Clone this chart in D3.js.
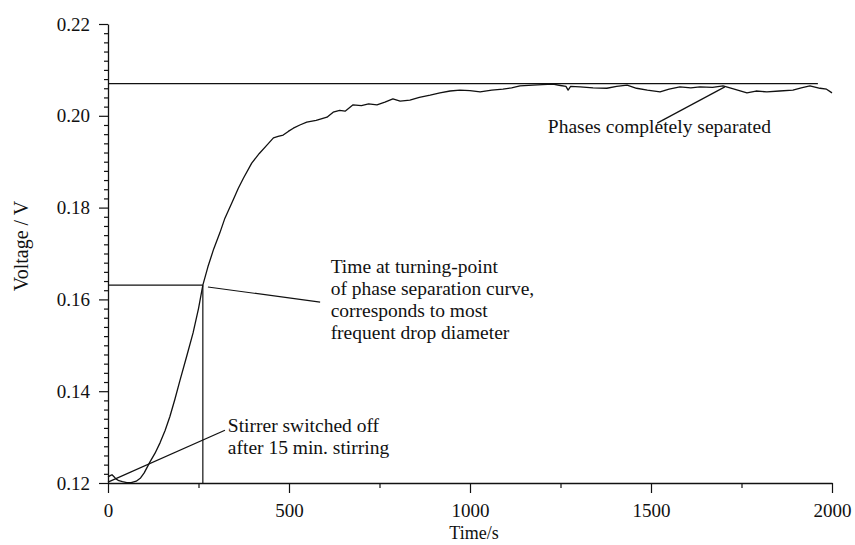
<!DOCTYPE html>
<html>
<head>
<meta charset="utf-8">
<script src="https://cdn.jsdelivr.net/npm/d3@7"></script>
<style>
  body { margin: 0; background: #fff; }
  svg text { font-family: "Liberation Serif", "Times New Roman", serif; fill: #111; }
</style>
</head>
<body>
<div id="chart"></div>
<script>
// phase separation curve
const times = [0, 6, 11, 16, 22, 30, 40, 52, 64, 78, 90, 100, 108, 116, 130, 144, 158, 171, 185, 199, 217, 235, 250, 262, 276, 292, 309, 323,
  346, 360, 374, 397, 418, 439, 457, 470, 484, 498, 512, 530, 549, 575, 605, 622, 640, 655, 677, 700, 720, 743, 765, 787, 807,
  834, 860, 890, 917, 945, 972, 1000, 1028, 1060, 1091, 1115, 1138, 1174, 1200, 1229, 1250, 1265, 1271, 1278, 1304, 1340, 1378,
  1405, 1434, 1460, 1490, 1525, 1550, 1580, 1610, 1635, 1670, 1699, 1730, 1765, 1790, 1820, 1855, 1892, 1915, 1939, 1967, 1985, 2000];
const volts = [0.1213, 0.1216, 0.1218, 0.1214, 0.1209, 0.1205, 0.1203, 0.1201, 0.1201, 0.1204, 0.1211, 0.1222, 0.1234, 0.1246, 0.1265, 0.1288, 0.1315, 0.1345, 0.1383, 0.1424, 0.1475, 0.1527, 0.1580, 0.1631, 0.1671, 0.1710, 0.1745, 0.1777,
  0.1817, 0.1842, 0.1864, 0.1897, 0.1918, 0.1936, 0.1952, 0.1955, 0.1958, 0.1966, 0.1973, 0.1980, 0.1986, 0.1990, 0.1997, 0.2008, 0.2012, 0.2010, 0.2024, 0.2022, 0.2026, 0.2024, 0.2030, 0.2037, 0.2032,
  0.2034, 0.2040, 0.2045, 0.2050, 0.2054, 0.2056, 0.2055, 0.2052, 0.2056, 0.2058, 0.2061, 0.2065, 0.2067, 0.2068, 0.2069, 0.2066, 0.2064, 0.2056, 0.2064, 0.2063, 0.2061, 0.2060,
  0.2064, 0.2067, 0.2060, 0.2056, 0.2052, 0.2058, 0.2063, 0.2061, 0.2063, 0.2062, 0.2065, 0.2058, 0.2050, 0.2054, 0.2052, 0.2054, 0.2056, 0.2061, 0.2065, 0.2060, 0.2058, 0.2050];

const xTicks = [0, 500, 1000, 1500, 2000];
const yTicks = [0.12, 0.14, 0.16, 0.18, 0.20, 0.22];
const plateau = 0.207;            // final voltage, phases separated
const turnPoint = [262, 0.1631];  // turning point of the curve

// annotation lines [t0, v0, t1, v1] and their labels
const notes = [
  { line: [276, 0.1627, 586, 0.1594], at: [615, 0.1657], lines: ["Time at turning-point", "of phase separation curve,", "corresponds to most", "frequent drop diameter"] },
  { line: [0, 0.1202, 323, 0.1315], at: [331, 0.1311], lines: ["Stirrer switched off", "after 15 min. stirring"] },
  { line: [1704, 0.2063, 1517, 0.1984], at: [1215, 0.1962], lines: ["Phases completely separated"] }
];

const W = 855, H = 545;
const margin = { top: 24, right: 23, bottom: 62, left: 108 },
  width = W - margin.left - margin.right,
  height = H - margin.top - margin.bottom;

const svg = d3.select("#chart").append("svg")
    .attr("width", W)
    .attr("height", H);
const g = svg.append("g")
    .attr("transform", `translate(${margin.left},${margin.top})`);

const x = d3.scaleLinear().domain([0, 2000]).range([0, width]);
const y = d3.scaleLinear().domain([0.12, 0.22]).range([height, 0]);

// minor ticks
const xMinor = d3.range(0, 2001, 250).filter(d => d % 500 !== 0);
const yMinor = d3.range(0, 51).map(i => 0.12 + i * 0.002).filter((d, i) => i % 10 !== 0);

g.append("g")
    .attr("transform", `translate(0,${height})`)
    .call(d3.axisBottom(x).tickValues(xMinor).tickSize(5).tickFormat(""))
    .call(a => a.select(".domain").remove());
g.append("g")
    .call(d3.axisLeft(y).tickValues(yMinor).tickSize(4).tickFormat(""))
    .call(a => a.select(".domain").remove());

const xAxis = g.append("g")
    .attr("transform", `translate(0,${height})`)
    .call(d3.axisBottom(x).tickValues(xTicks).tickSize(10).tickSizeOuter(0).tickPadding(11).tickFormat(d3.format("d")));
const yAxis = g.append("g")
    .call(d3.axisLeft(y).tickValues(yTicks).tickSize(9).tickSizeOuter(0).tickPadding(9).tickFormat(d3.format(".2f")));

[xAxis, yAxis].forEach(a => {
  a.selectAll("path, line").attr("stroke", "#111").attr("stroke-width", 1.3);
  a.selectAll("text").style("font-size", "19px").attr("fill", "#111");
});
g.selectAll(".tick line").attr("stroke", "#111").attr("stroke-width", 1.2);

// axis titles
svg.append("text")
    .attr("x", 474).attr("y", 539)
    .attr("text-anchor", "middle")
    .style("font-size", "18px")
    .text("Time/s");
svg.append("text")
    .attr("transform", "translate(28,246) rotate(-90)")
    .attr("text-anchor", "middle")
    .style("font-size", "20px")
    .text("Voltage / V");

// plateau and turning-point guides
g.append("line")
    .attr("x1", x(0)).attr("x2", x(1961))
    .attr("y1", y(plateau)).attr("y2", y(plateau))
    .attr("stroke", "#111").attr("stroke-width", 1.2);
g.append("line")
    .attr("x1", x(0)).attr("x2", x(turnPoint[0]))
    .attr("y1", y(turnPoint[1])).attr("y2", y(turnPoint[1]))
    .attr("stroke", "#111").attr("stroke-width", 1.2);
g.append("line")
    .attr("x1", x(turnPoint[0])).attr("x2", x(turnPoint[0]))
    .attr("y1", y(turnPoint[1])).attr("y2", y(0.12))
    .attr("stroke", "#111").attr("stroke-width", 1.2);

// the measured curve
const data = times.map((t, i) => ({ t: t, v: volts[i] }));
g.append("path")
    .datum(data)
    .attr("fill", "none")
    .attr("stroke", "#111")
    .attr("stroke-width", 1.3)
    .attr("stroke-linejoin", "round")
    .attr("d", d3.line().x(d => x(d.t)).y(d => y(d.v)));

// annotations
notes.forEach(n => {
  g.append("line")
      .attr("x1", x(n.line[0])).attr("y1", y(n.line[1]))
      .attr("x2", x(n.line[2])).attr("y2", y(n.line[3]))
      .attr("stroke", "#111").attr("stroke-width", 1.2);
  const txt = g.append("text")
      .attr("x", x(n.at[0])).attr("y", y(n.at[1]))
      .style("font-size", "19.5px");
  n.lines.forEach((s, i) => {
    txt.append("tspan")
        .attr("x", x(n.at[0]))
        .attr("dy", i === 0 ? 0 : 22)
        .text(s);
  });
});
</script>
</body>
</html>
